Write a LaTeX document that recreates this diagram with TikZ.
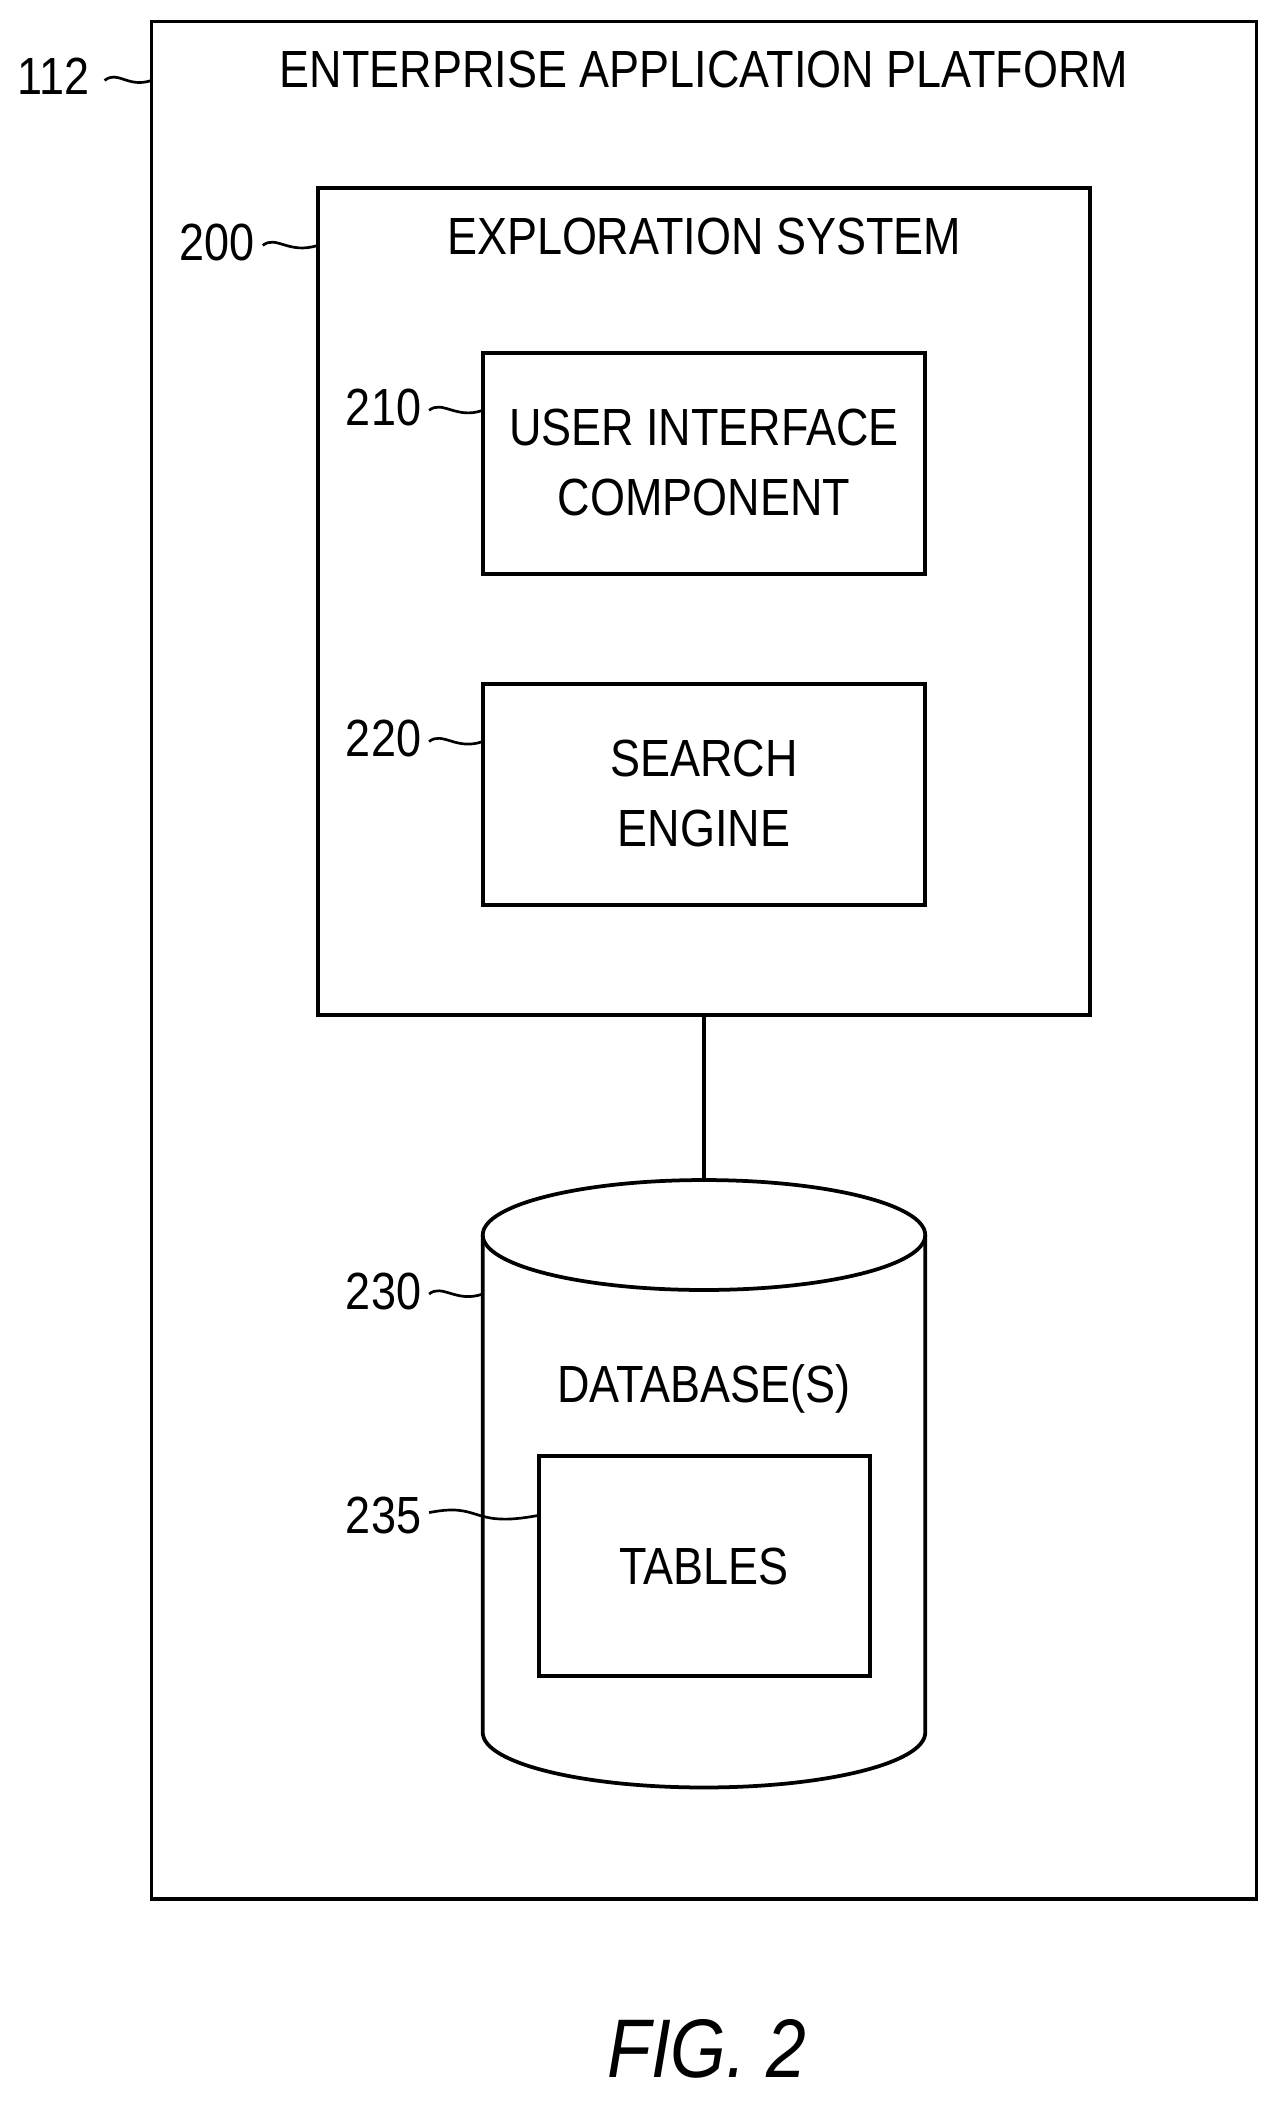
\documentclass[tikz,border=0pt]{standalone}
\usepackage{fontspec}
\setmainfont{Liberation Sans}[FakeStretch=0.86]
\begin{document}
\begin{tikzpicture}[x=0.5pt,y=-0.5pt,line width=1.4pt,
 txt/.style={font=\fontsize{19.5}{24}\selectfont,align=center,inner sep=0pt},
 box/.style={draw,line width=1.4pt},
 sq/.style={line width=1pt}]
\useasboundingbox (0,0) rectangle (960,1578);
\draw[box] (113,16) rectangle (937,1416);
\node[txt] (t1) at (525,52) {ENTERPRISE APPLICATION PLATFORM};
\node[txt] (l112) at (40,57) {112};
\draw[sq] (78,60) .. controls (88,52) and (95,66) .. (113,60);
\draw[box] (237,140) rectangle (813,757);
\coordinate (esb) at (525,757);
\node[txt] (t2) at (525,176) {EXPLORATION SYSTEM};
\node[txt] (l200) at (162,181) {200};
\draw[sq] (196,183) .. controls (206,175) and (215,190) .. (237,183);
\draw[box] (360,263) rectangle (690,428);
\node[txt] (ui) at (525,345) {USER INTERFACE\\[2pt]COMPONENT};
\node[txt] (l210) at (286,304) {210};
\draw[sq] (320,306) .. controls (330,298) and (340,313) .. (360,306);
\draw[box] (360,510) rectangle (690,675);
\node[txt] (se) at (525,592) {SEARCH\\[2pt]ENGINE};
\node[txt] (l220) at (286,551) {220};
\draw[sq] (320,553) .. controls (330,545) and (340,560) .. (360,553);
% cylinder
\draw[box] (360,921) -- (360,1292) arc[start angle=180,end angle=0,x radius=165,y radius=41] -- (690,921);
\draw[box] (525,921) ellipse[x radius=165,y radius=41];
\coordinate (cyltop) at (525,880);
\draw (esb) -- (cyltop);
\node[txt] (db) at (525,1036) {DATABASE(S)};
\node[txt] (l230) at (286,963) {230};
\draw[sq] (320,965) .. controls (330,957) and (340,972) .. (360,965);
\draw[box] (402,1086) rectangle (649,1250);
\coordinate (tl) at (402,1130);
\node[txt] (tb) at (525,1168) {TABLES};
\node[txt] (l235) at (286,1130) {235};
\draw[sq] (320,1128) .. controls (360,1120) and (350,1140) .. (tl);
\node[txt,font=\itshape\fontsize{31}{36}\selectfont] (fig) at (527,1528) {FIG. 2};
\end{tikzpicture}
\end{document}
